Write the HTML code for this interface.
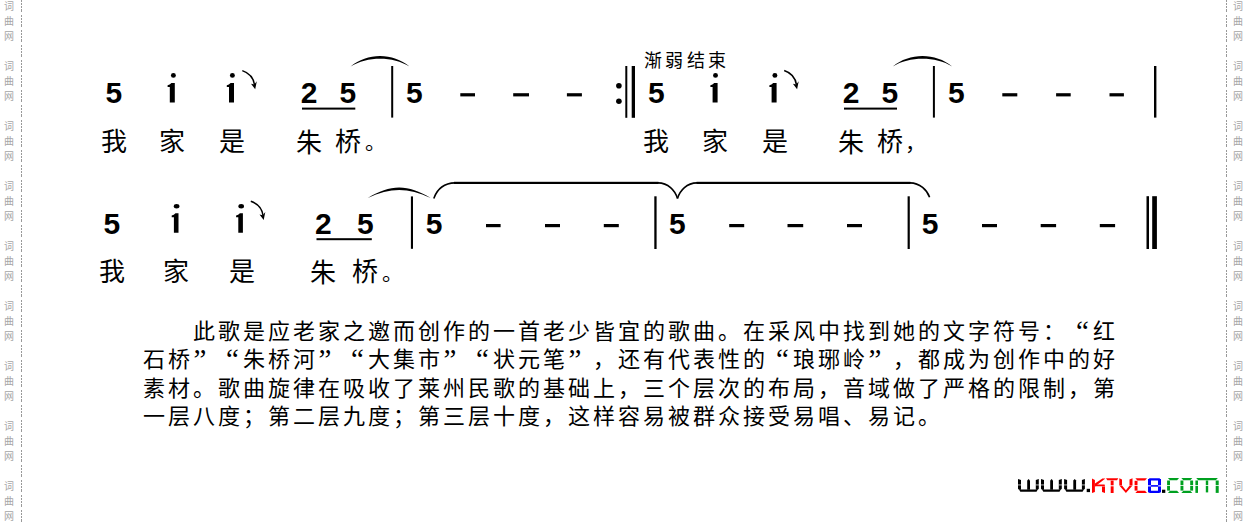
<!DOCTYPE html><html lang="zh-CN"><head><meta charset="utf-8"><style>
html,body{margin:0;padding:0;background:#fff;width:1248px;height:524px;overflow:hidden}
.t{position:absolute;line-height:1;white-space:nowrap;color:#000}
svg{position:absolute;left:0;top:0}
</style></head><body>
<div class="t" style="left:105.5px;top:77.8px;font:bold 30px 'Liberation Sans';line-height:1">5</div>
<div class="t" style="left:339.5px;top:77.8px;font:bold 30px 'Liberation Sans';line-height:1">5</div>
<div class="t" style="left:405.9px;top:77.8px;font:bold 30px 'Liberation Sans';line-height:1">5</div>
<div class="t" style="left:647.9px;top:77.8px;font:bold 30px 'Liberation Sans';line-height:1">5</div>
<div class="t" style="left:881.4px;top:77.8px;font:bold 30px 'Liberation Sans';line-height:1">5</div>
<div class="t" style="left:947.9px;top:77.8px;font:bold 30px 'Liberation Sans';line-height:1">5</div>
<div class="t" style="left:300.8px;top:77.8px;font:bold 30px 'Liberation Sans';line-height:1">2</div>
<div class="t" style="left:842.8px;top:77.8px;font:bold 30px 'Liberation Sans';line-height:1">2</div>
<div class="t" style="left:103.4px;top:208.8px;font:bold 30px 'Liberation Sans';line-height:1">5</div>
<div class="t" style="left:357.0px;top:208.8px;font:bold 30px 'Liberation Sans';line-height:1">5</div>
<div class="t" style="left:425.7px;top:208.8px;font:bold 30px 'Liberation Sans';line-height:1">5</div>
<div class="t" style="left:669.0px;top:208.8px;font:bold 30px 'Liberation Sans';line-height:1">5</div>
<div class="t" style="left:921.8px;top:208.8px;font:bold 30px 'Liberation Sans';line-height:1">5</div>
<div class="t" style="left:315.0px;top:208.8px;font:bold 30px 'Liberation Sans';line-height:1">2</div>
<div class="t" style="left:100.6px;top:130.0px;font:26px 'Liberation Serif';line-height:1">我</div>
<div class="t" style="left:159.4px;top:130.0px;font:26px 'Liberation Serif';line-height:1">家</div>
<div class="t" style="left:219.2px;top:130.0px;font:26px 'Liberation Serif';line-height:1">是</div>
<div class="t" style="left:295.5px;top:131.0px;font:26px 'Liberation Serif';line-height:1">朱</div>
<div class="t" style="left:334.8px;top:130.0px;font:26px 'Liberation Serif';line-height:1">桥</div>
<div class="t" style="left:643.4px;top:130.0px;font:26px 'Liberation Serif';line-height:1">我</div>
<div class="t" style="left:701.6px;top:130.0px;font:26px 'Liberation Serif';line-height:1">家</div>
<div class="t" style="left:761.6px;top:130.0px;font:26px 'Liberation Serif';line-height:1">是</div>
<div class="t" style="left:838.2px;top:131.0px;font:26px 'Liberation Serif';line-height:1">朱</div>
<div class="t" style="left:877.2px;top:130.0px;font:26px 'Liberation Serif';line-height:1">桥</div>
<div class="t" style="left:364.8px;top:132.4px;font:21px 'Liberation Serif';line-height:1">。</div>
<div class="t" style="left:904.8px;top:133.0px;font:21px 'Liberation Serif';line-height:1">，</div>
<div class="t" style="left:99.1px;top:260.4px;font:26px 'Liberation Serif';line-height:1">我</div>
<div class="t" style="left:163.2px;top:260.4px;font:26px 'Liberation Serif';line-height:1">家</div>
<div class="t" style="left:229.2px;top:260.4px;font:26px 'Liberation Serif';line-height:1">是</div>
<div class="t" style="left:310.3px;top:261.4px;font:26px 'Liberation Serif';line-height:1">朱</div>
<div class="t" style="left:352.4px;top:260.4px;font:26px 'Liberation Serif';line-height:1">桥</div>
<div class="t" style="left:382.2px;top:263.2px;font:21px 'Liberation Serif';line-height:1">。</div>
<div class="t" style="left:644.0px;top:52.0px;font:18px 'Liberation Sans';letter-spacing:3.3px;line-height:1">渐弱结束</div>
<svg width="1248" height="524" viewBox="0 0 1248 524"><path d="M169.8,102.6 L174.8,102.6 L174.8,82.9 L171.4,82.9 Q169.8,84.7 167.60000000000002,85.2 L167.60000000000002,86.9 L169.8,86.9 Z" fill="#000" stroke="none" stroke-width="0"/><ellipse cx="173.4" cy="75.4" rx="2.45" ry="2.45"/><path d="M229.0,102.6 L234.0,102.6 L234.0,82.9 L230.6,82.9 Q229.0,84.7 226.8,85.2 L226.8,86.9 L229.0,86.9 Z" fill="#000" stroke="none" stroke-width="0"/><ellipse cx="232.4" cy="75.4" rx="2.45" ry="2.45"/><path d="M242.3,70.6 C248.0,72.5 253.5,77.0 254.6,85.0" fill="none" stroke="#000" stroke-width="1.5"/><path d="M255.2,89.3 L251.0,83.8 L254.3,84.6 L256.8,81.3 Z" fill="#000" stroke="none" stroke-width="0"/><path d="M712.6,102.6 L717.6,102.6 L717.6,82.9 L714.2,82.9 Q712.6,84.7 710.4,85.2 L710.4,86.9 L712.6,86.9 Z" fill="#000" stroke="none" stroke-width="0"/><ellipse cx="715.5" cy="75.4" rx="2.45" ry="2.45"/><path d="M771.6,102.6 L776.6,102.6 L776.6,82.9 L773.2,82.9 Q771.6,84.7 769.4,85.2 L769.4,86.9 L771.6,86.9 Z" fill="#000" stroke="none" stroke-width="0"/><ellipse cx="774.9" cy="75.4" rx="2.45" ry="2.45"/><path d="M784.2,70.5 C789.9000000000001,72.4 795.4000000000001,76.9 796.5000000000001,84.9" fill="none" stroke="#000" stroke-width="1.5"/><path d="M797.1000000000001,89.2 L792.9000000000001,83.7 L796.2,84.5 L798.7,81.2 Z" fill="#000" stroke="none" stroke-width="0"/><rect x="302" y="107.6" width="53.30" height="2.00" fill="#000"/><rect x="844" y="107.6" width="53.00" height="2.00" fill="#000"/><rect x="391.2" y="66" width="2.00" height="51.60" fill="#000"/><rect x="932.9" y="66" width="2.00" height="51.60" fill="#000"/><rect x="1154.0" y="66" width="2.40" height="51.60" fill="#000"/><rect x="625.3" y="66" width="2.00" height="51.80" fill="#000"/><rect x="631.7" y="66" width="3.30" height="51.80" fill="#000"/><circle cx="618.9" cy="85.8" r="2.8"/><circle cx="618.9" cy="101.2" r="2.8"/><rect x="460.3" y="93.2" width="14.70" height="3.20" fill="#000"/><rect x="513.2" y="93.2" width="15.80" height="3.20" fill="#000"/><rect x="566.9" y="93.2" width="15.00" height="3.20" fill="#000"/><rect x="1002.3" y="93.2" width="15.00" height="3.20" fill="#000"/><rect x="1056.1" y="93.2" width="14.60" height="3.20" fill="#000"/><rect x="1109.5" y="93.2" width="14.40" height="3.20" fill="#000"/><path d="M350.6,66.5 C367.09,52.37 393.01,52.37 409.5,66.5 C393.01,56.10 367.09,56.10 350.6,66.5 Z" fill="#000" stroke="none" stroke-width="0"/><path d="M892.8,66.5 C909.43,52.50 935.57,52.50 952.2,66.5 C935.57,56.23 909.43,56.23 892.8,66.5 Z" fill="#000" stroke="none" stroke-width="0"/><path d="M173.9,232.8 L178.5,232.8 L178.5,213.3 L175.5,213.3 Q173.9,215.10000000000002 171.70000000000002,215.60000000000002 L171.70000000000002,217.3 L173.9,217.3 Z" fill="#000" stroke="none" stroke-width="0"/><ellipse cx="176.6" cy="206.2" rx="2.8" ry="2.2"/><path d="M238.3,232.8 L242.9,232.8 L242.9,213.3 L239.9,213.3 Q238.3,215.10000000000002 236.10000000000002,215.60000000000002 L236.10000000000002,217.3 L238.3,217.3 Z" fill="#000" stroke="none" stroke-width="0"/><ellipse cx="241.2" cy="206.2" rx="2.8" ry="2.2"/><path d="M250.8,201.3 C256.5,203.20000000000002 262.0,207.70000000000002 263.1,215.70000000000002" fill="none" stroke="#000" stroke-width="1.5"/><path d="M263.7,220.0 L259.5,214.5 L262.8,215.3 L265.3,212.0 Z" fill="#000" stroke="none" stroke-width="0"/><rect x="316.5" y="238.2" width="55.30" height="2.00" fill="#000"/><rect x="410.9" y="196.4" width="2.10" height="52.40" fill="#000"/><rect x="654.3" y="196.3" width="2.30" height="52.70" fill="#000"/><rect x="907.6" y="196.3" width="2.20" height="52.70" fill="#000"/><rect x="1146.5" y="196.2" width="2.50" height="52.80" fill="#000"/><rect x="1152.2" y="196.2" width="4.70" height="52.80" fill="#000"/><rect x="486" y="224.0" width="14.60" height="3.20" fill="#000"/><rect x="545" y="224.0" width="15.00" height="3.20" fill="#000"/><rect x="603.8" y="224.0" width="15.00" height="3.20" fill="#000"/><rect x="729.2" y="224.0" width="15.00" height="3.20" fill="#000"/><rect x="787.5" y="224.0" width="15.70" height="3.20" fill="#000"/><rect x="847" y="224.0" width="15.00" height="3.20" fill="#000"/><rect x="982" y="224.0" width="15.00" height="3.20" fill="#000"/><rect x="1040.7" y="224.0" width="15.40" height="3.20" fill="#000"/><rect x="1099.8" y="224.0" width="15.30" height="3.20" fill="#000"/><path d="M367.7,198.0 C390.38,183.87 408.02,183.87 430.7,198.0 C408.02,187.33 390.38,187.33 367.7,198.0 Z" fill="#000" stroke="none" stroke-width="0"/><rect x="454" y="181.8" width="204.50" height="2.20" fill="#000"/><rect x="696.5" y="181.8" width="214.00" height="2.20" fill="#000"/><path d="M433.8,198.4 C437,189.5 444,183.2 455,182.9" fill="none" stroke="#000" stroke-width="1.6"/><path d="M658,182.9 C668,183.1 675,190 677.5,198.5" fill="none" stroke="#000" stroke-width="1.6"/><path d="M677.5,198.5 C680,190 687,183.1 697,182.9" fill="none" stroke="#000" stroke-width="1.6"/><path d="M910,182.9 C920,183.1 927,190 929.6,197.2" fill="none" stroke="#000" stroke-width="1.6"/></svg>
<style>.pl{position:absolute;left:0;height:22px;font-size:22px;line-height:22px;font-family:"Liberation Serif",serif;white-space:nowrap}.pl span{position:absolute;top:0;width:25px;text-align:center}.pl .oq{text-align:right;width:22.8px;font-size:29px;top:-1px}.pl .cq{text-align:left;padding-left:2.6px;width:22px;font-size:29px;top:-1px}</style><div class="pl" style="top:320.5px"><span style="left:191.0px">此</span><span style="left:216.0px">歌</span><span style="left:241.0px">是</span><span style="left:266.0px">应</span><span style="left:291.0px">老</span><span style="left:316.0px">家</span><span style="left:341.0px">之</span><span style="left:366.0px">邀</span><span style="left:391.0px">而</span><span style="left:416.0px">创</span><span style="left:441.0px">作</span><span style="left:466.0px">的</span><span style="left:491.0px">一</span><span style="left:516.0px">首</span><span style="left:541.0px">老</span><span style="left:566.0px">少</span><span style="left:591.0px">皆</span><span style="left:616.0px">宜</span><span style="left:641.0px">的</span><span style="left:666.0px">歌</span><span style="left:691.0px">曲</span><span style="left:716.0px">。</span><span style="left:741.0px">在</span><span style="left:766.0px">采</span><span style="left:791.0px">风</span><span style="left:816.0px">中</span><span style="left:841.0px">找</span><span style="left:866.0px">到</span><span style="left:891.0px">她</span><span style="left:916.0px">的</span><span style="left:941.0px">文</span><span style="left:966.0px">字</span><span style="left:991.0px">符</span><span style="left:1016.0px">号</span><span style="left:1041.0px">：</span><span class="oq" style="left:1066.0px">“</span><span style="left:1091.0px">红</span></div><div class="pl" style="top:349.0px"><span style="left:141.0px">石</span><span style="left:166.0px">桥</span><span class="cq" style="left:191.0px">”</span><span class="oq" style="left:216.0px">“</span><span style="left:241.0px">朱</span><span style="left:266.0px">桥</span><span style="left:291.0px">河</span><span class="cq" style="left:316.0px">”</span><span class="oq" style="left:341.0px">“</span><span style="left:366.0px">大</span><span style="left:391.0px">集</span><span style="left:416.0px">市</span><span class="cq" style="left:441.0px">”</span><span class="oq" style="left:466.0px">“</span><span style="left:491.0px">状</span><span style="left:516.0px">元</span><span style="left:541.0px">笔</span><span class="cq" style="left:566.0px">”</span><span style="left:591.0px">，</span><span style="left:616.0px">还</span><span style="left:641.0px">有</span><span style="left:666.0px">代</span><span style="left:691.0px">表</span><span style="left:716.0px">性</span><span style="left:741.0px">的</span><span class="oq" style="left:766.0px">“</span><span style="left:791.0px">琅</span><span style="left:816.0px">琊</span><span style="left:841.0px">岭</span><span class="cq" style="left:866.0px">”</span><span style="left:891.0px">，</span><span style="left:916.0px">都</span><span style="left:941.0px">成</span><span style="left:966.0px">为</span><span style="left:991.0px">创</span><span style="left:1016.0px">作</span><span style="left:1041.0px">中</span><span style="left:1066.0px">的</span><span style="left:1091.0px">好</span></div><div class="pl" style="top:377.5px"><span style="left:141.0px">素</span><span style="left:166.0px">材</span><span style="left:191.0px">。</span><span style="left:216.0px">歌</span><span style="left:241.0px">曲</span><span style="left:266.0px">旋</span><span style="left:291.0px">律</span><span style="left:316.0px">在</span><span style="left:341.0px">吸</span><span style="left:366.0px">收</span><span style="left:391.0px">了</span><span style="left:416.0px">莱</span><span style="left:441.0px">州</span><span style="left:466.0px">民</span><span style="left:491.0px">歌</span><span style="left:516.0px">的</span><span style="left:541.0px">基</span><span style="left:566.0px">础</span><span style="left:591.0px">上</span><span style="left:616.0px">，</span><span style="left:641.0px">三</span><span style="left:666.0px">个</span><span style="left:691.0px">层</span><span style="left:716.0px">次</span><span style="left:741.0px">的</span><span style="left:766.0px">布</span><span style="left:791.0px">局</span><span style="left:816.0px">，</span><span style="left:841.0px">音</span><span style="left:866.0px">域</span><span style="left:891.0px">做</span><span style="left:916.0px">了</span><span style="left:941.0px">严</span><span style="left:966.0px">格</span><span style="left:991.0px">的</span><span style="left:1016.0px">限</span><span style="left:1041.0px">制</span><span style="left:1066.0px">，</span><span style="left:1091.0px">第</span></div><div class="pl" style="top:406.2px"><span style="left:141.0px">一</span><span style="left:166.0px">层</span><span style="left:191.0px">八</span><span style="left:216.0px">度</span><span style="left:241.0px">；</span><span style="left:266.0px">第</span><span style="left:291.0px">二</span><span style="left:316.0px">层</span><span style="left:341.0px">九</span><span style="left:366.0px">度</span><span style="left:391.0px">；</span><span style="left:416.0px">第</span><span style="left:441.0px">三</span><span style="left:466.0px">层</span><span style="left:491.0px">十</span><span style="left:516.0px">度</span><span style="left:541.0px">，</span><span style="left:566.0px">这</span><span style="left:591.0px">样</span><span style="left:616.0px">容</span><span style="left:641.0px">易</span><span style="left:666.0px">被</span><span style="left:691.0px">群</span><span style="left:716.0px">众</span><span style="left:741.0px">接</span><span style="left:766.0px">受</span><span style="left:791.0px">易</span><span style="left:816.0px">唱</span><span style="left:841.0px">、</span><span style="left:866.0px">易</span><span style="left:891.0px">记</span><span style="left:916.0px">。</span></div>
<svg width="1248" height="524" style="position:absolute;left:0;top:0"><polygon points="1018.00,479.00 1021.00,480.00 1021.00,489.70 1019.00,489.70 1018.00,488.70" fill="#000"/><polygon points="1027.20,480.50 1028.60,479.00 1030.00,480.50 1030.00,489.70 1027.20,489.70" fill="#000"/><polygon points="1035.80,480.00 1038.80,479.00 1038.80,488.70 1037.80,489.70 1035.80,489.70" fill="#000"/><polygon points="1019.00,489.50 1037.80,489.50 1036.50,491.70 1020.30,491.70" fill="#000"/><rect x="1017.80" y="484.60" width="3.40" height="0.70" fill="#fff"/><rect x="1035.60" y="484.60" width="3.40" height="0.70" fill="#fff"/><polygon points="1041.00,479.00 1044.00,480.00 1044.00,489.70 1042.00,489.70 1041.00,488.70" fill="#000"/><polygon points="1050.20,480.50 1051.60,479.00 1053.00,480.50 1053.00,489.70 1050.20,489.70" fill="#000"/><polygon points="1058.80,480.00 1061.80,479.00 1061.80,488.70 1060.80,489.70 1058.80,489.70" fill="#000"/><polygon points="1042.00,489.50 1060.80,489.50 1059.50,491.70 1043.30,491.70" fill="#000"/><rect x="1040.80" y="484.60" width="3.40" height="0.70" fill="#fff"/><rect x="1058.60" y="484.60" width="3.40" height="0.70" fill="#fff"/><polygon points="1064.10,479.00 1067.10,480.00 1067.10,489.70 1065.10,489.70 1064.10,488.70" fill="#000"/><polygon points="1073.30,480.50 1074.70,479.00 1076.10,480.50 1076.10,489.70 1073.30,489.70" fill="#000"/><polygon points="1081.90,480.00 1084.90,479.00 1084.90,488.70 1083.90,489.70 1081.90,489.70" fill="#000"/><polygon points="1065.10,489.50 1083.90,489.50 1082.60,491.70 1066.40,491.70" fill="#000"/><rect x="1063.90" y="484.60" width="3.40" height="0.70" fill="#fff"/><rect x="1081.70" y="484.60" width="3.40" height="0.70" fill="#fff"/><rect x="1086.70" y="488.80" width="3.30" height="3.30" fill="#000"/><rect x="1162.00" y="489.70" width="3.30" height="3.20" fill="#000"/><polygon points="1092.00,478.60 1094.90,480.00 1094.90,492.00 1092.00,493.00" fill="#ff0000"/><polygon points="1095.00,483.40 1102.40,478.40 1105.40,478.40 1095.00,486.40" fill="#ff0000"/><polygon points="1095.00,484.60 1104.60,484.60 1105.00,486.20 1095.00,486.20" fill="#ff0000"/><polygon points="1102.00,486.40 1105.00,486.40 1105.00,493.00 1102.00,492.00" fill="#ff0000"/><polygon points="1106.00,478.20 1118.30,478.20 1117.00,480.30 1107.30,480.30" fill="#ff0000"/><rect x="1110.70" y="480.60" width="2.90" height="4.70" fill="#ff0000"/><rect x="1110.70" y="486.30" width="2.90" height="6.70" fill="#ff0000"/><polygon points="1119.30,478.20 1122.00,479.50 1122.00,485.30 1119.30,485.30" fill="#ff0000"/><polygon points="1129.50,479.50 1132.50,478.20 1132.50,485.30 1129.50,485.30" fill="#ff0000"/><polygon points="1119.30,485.60 1122.00,485.60 1125.90,490.20 1129.60,485.60 1132.50,485.60 1125.90,493.00" fill="#ff0000"/><polygon points="1135.40,478.20 1147.00,478.20 1145.00,480.50 1137.40,480.50" fill="#ff0000"/><rect x="1134.60" y="480.80" width="2.90" height="4.40" fill="#ff0000"/><rect x="1134.60" y="486.00" width="2.90" height="4.60" fill="#ff0000"/><polygon points="1137.40,490.80 1145.00,490.80 1147.00,493.00 1135.40,493.00" fill="#ff0000"/><polygon points="1148.80,478.20 1160.20,478.20 1158.20,480.40 1150.80,480.40" fill="#0000ff"/><rect x="1148.00" y="479.00" width="3.00" height="6.30" fill="#0000ff"/><rect x="1158.00" y="479.00" width="3.00" height="6.30" fill="#0000ff"/><rect x="1150.80" y="485.10" width="7.40" height="1.60" fill="#0000ff"/><rect x="1148.00" y="486.40" width="3.00" height="6.00" fill="#0000ff"/><rect x="1158.00" y="486.40" width="3.00" height="6.00" fill="#0000ff"/><polygon points="1150.80,490.70 1158.20,490.70 1160.20,492.90 1148.80,492.90" fill="#0000ff"/><polygon points="1167.90,477.90 1179.10,477.90 1177.10,480.20 1170.00,480.20" fill="#00a020"/><rect x="1167.10" y="480.50" width="2.90" height="4.60" fill="#00a020"/><rect x="1167.10" y="485.90" width="2.90" height="4.70" fill="#00a020"/><polygon points="1170.00,490.80 1177.10,490.80 1179.10,493.00 1167.90,493.00" fill="#00a020"/><polygon points="1181.30,477.90 1192.30,477.90 1190.20,480.20 1183.40,480.20" fill="#00a020"/><rect x="1180.50" y="480.50" width="2.90" height="4.60" fill="#00a020"/><rect x="1180.50" y="485.90" width="2.90" height="4.70" fill="#00a020"/><rect x="1190.20" y="480.50" width="2.90" height="4.60" fill="#00a020"/><rect x="1190.20" y="485.90" width="2.90" height="4.70" fill="#00a020"/><polygon points="1183.40,490.80 1190.20,490.80 1192.30,493.00 1181.30,493.00" fill="#00a020"/><polygon points="1196.20,477.90 1217.90,477.90 1215.70,480.20 1198.30,480.20" fill="#00a020"/><rect x="1195.40" y="480.50" width="2.60" height="4.60" fill="#00a020"/><rect x="1195.40" y="485.90" width="2.60" height="7.00" fill="#00a020"/><rect x="1205.80" y="480.50" width="2.40" height="4.60" fill="#00a020"/><rect x="1205.80" y="485.90" width="2.40" height="6.50" fill="#00a020"/><rect x="1215.70" y="480.50" width="3.00" height="4.60" fill="#00a020"/><rect x="1215.70" y="485.90" width="3.00" height="7.00" fill="#00a020"/><line x1="21.5" y1="0" x2="21.5" y2="524" stroke="#999" stroke-width="1" stroke-dasharray="2 1 2 1 2 1 3 3"/><line x1="1226.5" y1="0" x2="1226.5" y2="524" stroke="#999" stroke-width="1" stroke-dasharray="2 1 2 1 2 1 3 3"/></svg><style>.wm{position:absolute;font-size:10px;line-height:15px;width:12px;text-align:center;color:#a6a6a6;font-family:"Liberation Sans",sans-serif}</style><div class="wm" style="left:3.0px;top:-1px">词<br>曲<br>网</div><div class="wm" style="left:1232.0px;top:-1px">词<br>曲<br>网</div><div class="wm" style="left:3.0px;top:59px">词<br>曲<br>网</div><div class="wm" style="left:1232.0px;top:59px">词<br>曲<br>网</div><div class="wm" style="left:3.0px;top:119px">词<br>曲<br>网</div><div class="wm" style="left:1232.0px;top:119px">词<br>曲<br>网</div><div class="wm" style="left:3.0px;top:179px">词<br>曲<br>网</div><div class="wm" style="left:1232.0px;top:179px">词<br>曲<br>网</div><div class="wm" style="left:3.0px;top:239px">词<br>曲<br>网</div><div class="wm" style="left:1232.0px;top:239px">词<br>曲<br>网</div><div class="wm" style="left:3.0px;top:299px">词<br>曲<br>网</div><div class="wm" style="left:1232.0px;top:299px">词<br>曲<br>网</div><div class="wm" style="left:3.0px;top:359px">词<br>曲<br>网</div><div class="wm" style="left:1232.0px;top:359px">词<br>曲<br>网</div><div class="wm" style="left:3.0px;top:419px">词<br>曲<br>网</div><div class="wm" style="left:1232.0px;top:419px">词<br>曲<br>网</div><div class="wm" style="left:3.0px;top:479px">词<br>曲<br>网</div><div class="wm" style="left:1232.0px;top:479px">词<br>曲<br>网</div>
</body></html>
